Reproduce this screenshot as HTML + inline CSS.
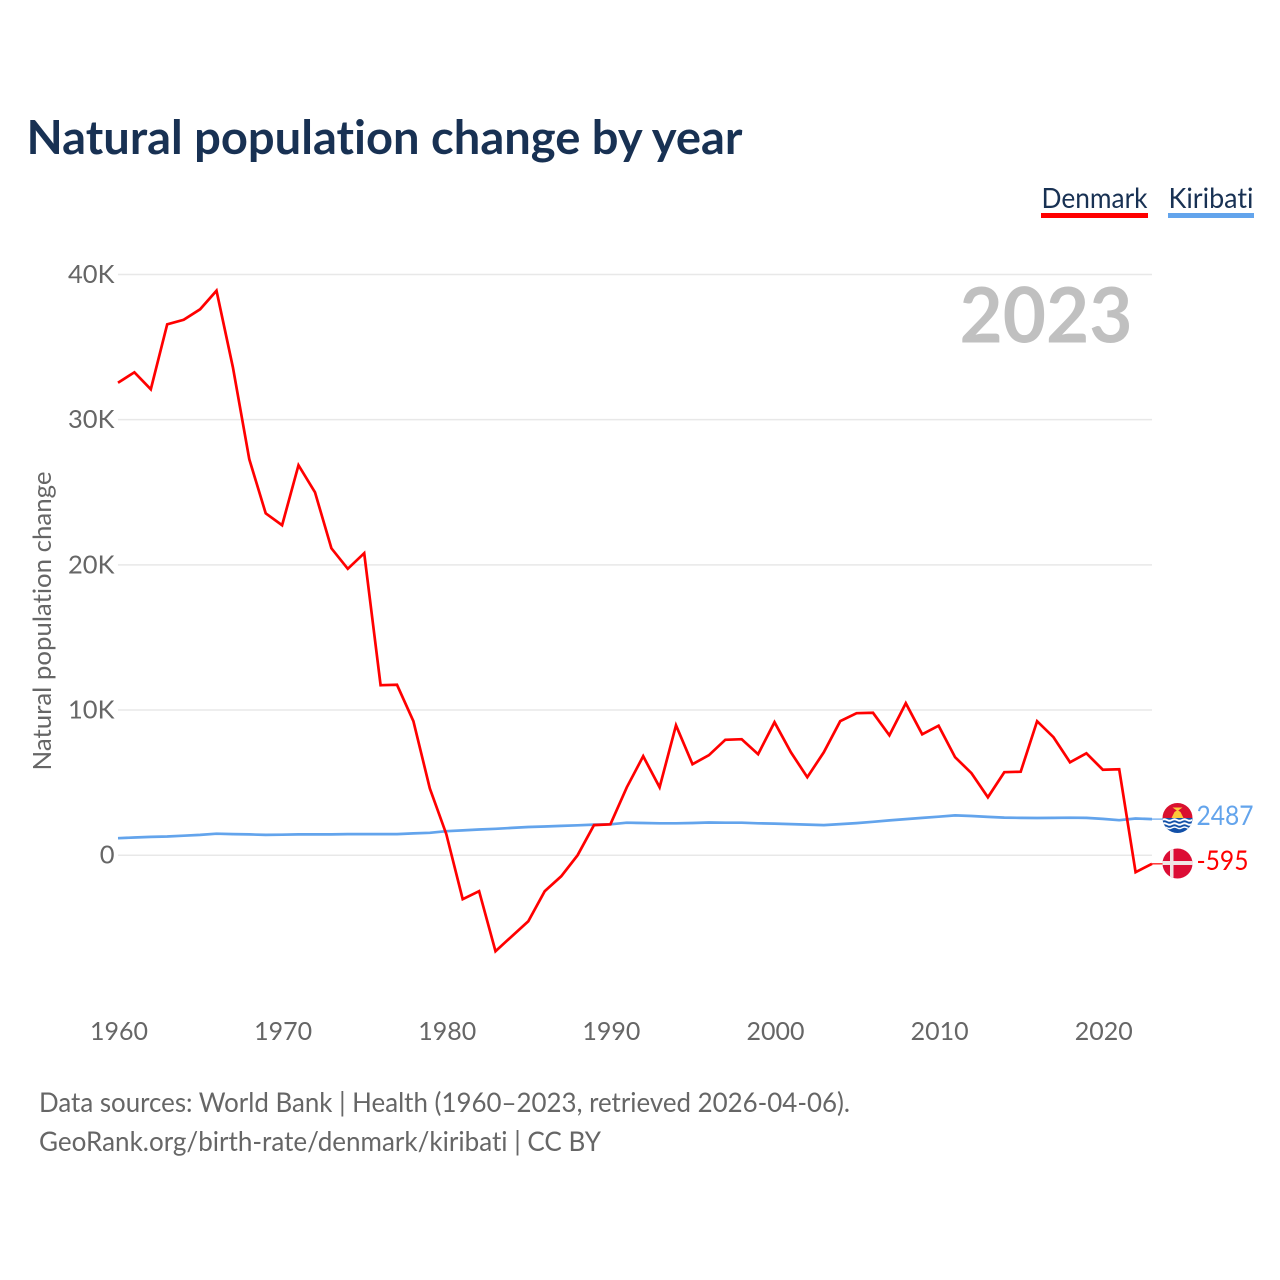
<!DOCTYPE html>
<html lang="en">
<head>
<meta charset="utf-8">
<title>Natural population change by year</title>
<style>
html,body{margin:0;padding:0;background:#fff;}
svg{display:block;}
text{font-family:"Lato","Carlito","Liberation Sans",sans-serif;font-variant-ligatures:none;}
</style>
</head>
<body>
<svg id="chart" xmlns="http://www.w3.org/2000/svg" width="1280" height="1280" viewBox="0 0 1280 1280">
  <rect width="1280" height="1280" fill="#fff"/>
  <text x="26.500" y="154" font-size="47" font-weight="700" fill="#183153" textLength="716" lengthAdjust="spacingAndGlyphs">Natural population change by year</text>

  <g>
    <text x="1041.500" y="208" font-size="28" fill="#183153" textLength="106" lengthAdjust="spacingAndGlyphs">Denmark</text>
    <rect x="1041" y="213" width="107" height="5" fill="#ff0000"/>
  </g>
  <g>
    <text x="1168.500" y="208" font-size="28" fill="#183153" textLength="85" lengthAdjust="spacingAndGlyphs">Kiribati</text>
    <rect x="1168" y="213" width="86" height="5" fill="#63a4ec"/>
  </g>

  <g id="grid"></g>
  <g id="yticks"></g>
  <g id="xticks"></g>

  <text transform="translate(51 621) rotate(-90)" text-anchor="middle" font-size="25.500" fill="#666" textLength="299" lengthAdjust="spacingAndGlyphs">Natural population change</text>

  <text x="959.500" y="342.500" font-size="77" font-weight="700" fill="#c0c0c0" textLength="173" lengthAdjust="spacingAndGlyphs">2023</text>

  <g id="series"></g>

  <g>
    <clipPath id="clip-ki"><circle cx="1177.500" cy="818" r="15"/></clipPath>
    <g clip-path="url(#clip-ki)">
      <rect x="1162" y="802" width="31" height="17" fill="#d9102f"/>
      <rect x="1162" y="818" width="31" height="16" fill="#1250a8"/>
      <path d="M1171.500 818l3-6 3-2 3 2 3 6z" fill="#fcc93a"/>
      <path d="M1172.500 807.500h10l-5 3.500z" fill="#fcc93a"/>
      <path d="M1162 819q2.500-1.600 5 0t5 0t5 0t5 0t5 0t5 0v2q-2.500 1.600-5 0t-5 0t-5 0t-5 0t-5 0t-5 0z" fill="#fff"/>
      <path d="M1162 823q2.500-1.600 5 0t5 0t5 0t5 0t5 0t5 0v2q-2.500 1.600-5 0t-5 0t-5 0t-5 0t-5 0t-5 0z" fill="#fff"/>
      <path d="M1162 827q2.500-1.600 5 0t5 0t5 0t5 0t5 0t5 0v1.500q-2.500 1.600-5 0t-5 0t-5 0t-5 0t-5 0t-5 0z" fill="#fff"/>
    </g>
  </g>
  <g>
    <clipPath id="clip-dk"><circle cx="1177.500" cy="863.500" r="15"/></clipPath>
    <g clip-path="url(#clip-dk)">
      <rect x="1162" y="848" width="31" height="31" fill="#dc0d35"/>
      <rect x="1170" y="848" width="3.500" height="31" fill="#f0e6e6"/>
      <rect x="1162" y="861" width="31" height="4" fill="#f0e6e6"/>
    </g>
  </g>

  <text id="end-ki" x="1196.500" y="825" font-size="27" fill="#63a4ec" textLength="57" lengthAdjust="spacingAndGlyphs">2487</text>
  <text id="end-dk" x="1196.500" y="870" font-size="27" fill="#ff0000" textLength="52" lengthAdjust="spacingAndGlyphs">-595</text>

  <text x="39" y="1112" font-size="27" fill="#666" textLength="811" lengthAdjust="spacingAndGlyphs">Data sources: World Bank | Health (1960–2023, retrieved 2026-04-06).</text>
  <a><text x="39" y="1151" font-size="27" fill="#666" textLength="562" lengthAdjust="spacingAndGlyphs">GeoRank.org/birth-rate/denmark/kiribati | CC BY</text></a>
</svg>
<script>
const startYear = 1960;
const denmarkValues = [32540,33260,32090,36570,36880,37600,38880,33610,27270,23550,22730,26860,25000,21140,19730,20800,11710,11740,9230,4610,1450,-3030,-2480,-6610,-5580,-4550,-2480,-1450,0,2070,2130,4680,6820,4680,8950,6270,6890,7950,7990,6960,9160,7090,5370,7090,9230,9780,9810,8260,10470,8330,8920,6750,5650,3990,5720,5750,9230,8130,6400,7020,5890,5920,-1170,-595];
const kiribatiValues = [1170,1220,1260,1290,1340,1400,1480,1450,1430,1400,1410,1430,1430,1430,1450,1450,1450,1450,1500,1540,1650,1710,1770,1820,1880,1940,1980,2020,2060,2110,2130,2240,2220,2200,2200,2220,2250,2240,2240,2200,2180,2140,2110,2070,2140,2210,2300,2400,2490,2570,2650,2740,2700,2640,2590,2570,2560,2570,2580,2570,2500,2410,2530,2487];
const yTicks = [0,10000,20000,30000,40000];
const yTickLabels = ['0','10K','20K','30K','40K'];
const xTicks = [1960,1970,1980,1990,2000,2010,2020];

const NS = 'http://www.w3.org/2000/svg';
function xScale(year){ return 118 + (year - 1960) * 16.413; }
function yScale(v){ return 855.2 - v * 0.014518; }
function make(tag, attrs, parent){
  const el = document.createElementNS(NS, tag);
  for (const k in attrs) el.setAttribute(k, attrs[k]);
  parent.appendChild(el);
  return el;
}
const grid = document.getElementById('grid');
const yt = document.getElementById('yticks');
const xt = document.getElementById('xticks');
const seriesG = document.getElementById('series');

yTicks.forEach(function(v, i){
  const line = make('line', {x1:118, x2:1152, y1:yScale(v), y2:yScale(v), stroke:'#e8e8e8', 'stroke-width':1.5}, grid);
  
  
  const t = make('text', {x:114.5, y:yScale(v)+8.5, 'text-anchor':'end', 'font-size':25.5, fill:'#666'}, yt);
  
  
  t.textContent = yTickLabels[i];
});
xTicks.forEach(function(y){
  const t = make('text', {x:xScale(y)+1, y:1040, 'text-anchor':'middle', 'font-size':25.5, fill:'#666', textLength:58, lengthAdjust:'spacingAndGlyphs'}, xt);
  
  
  t.textContent = y;
});
function points(values){
  return values.map(function(v, i){ return xScale(startYear + i).toFixed(1) + ',' + yScale(v).toFixed(1); }).join(' ');
}
const kiLine = make('polyline', {points:points(kiribatiValues), fill:'none', stroke:'#63a4ec', 'stroke-width':2.7, 'stroke-linejoin':'round'}, seriesG);


const dkLine = make('polyline', {points:points(denmarkValues), fill:'none', stroke:'#ff0000', 'stroke-width':2.7, 'stroke-linejoin':'miter'}, seriesG);



const lastYear = startYear + denmarkValues.length - 1;
const kiLeader = make('line', {x1:xScale(lastYear), x2:1163, y1:yScale(kiribatiValues[kiribatiValues.length-1]), y2:yScale(kiribatiValues[kiribatiValues.length-1]), stroke:'#63a4ec', 'stroke-width':1.2}, seriesG);


const dkLeader = make('line', {x1:xScale(lastYear), x2:1163, y1:yScale(denmarkValues[denmarkValues.length-1]), y2:yScale(denmarkValues[denmarkValues.length-1]), stroke:'#ff0000', 'stroke-width':1.2}, seriesG);


document.getElementById('end-ki').textContent = kiribatiValues[kiribatiValues.length-1];
document.getElementById('end-dk').textContent = denmarkValues[denmarkValues.length-1];
</script>
</body>
</html>
